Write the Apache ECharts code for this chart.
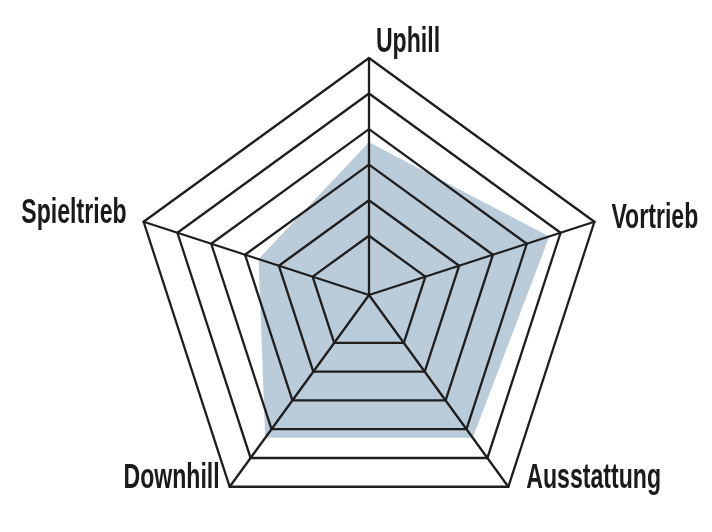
<!DOCTYPE html>
<html>
<head>
<meta charset="utf-8">
<script src="https://cdn.jsdelivr.net/npm/echarts@6/dist/echarts.min.js"></script>
<style>
  html, body { margin: 0; padding: 0; background: #ffffff; }
  #chart { width: 712px; height: 532px; }
</style>
</head>
<body>
<div id="chart"></div>
<script>
// Axis names, in ECharts radar order (top first, then counter-clockwise)
const indicatorNames = ['Uphill', 'Spieltrieb', 'Downhill', 'Ausstattung', 'Vortrieb'];
// Values, on the 0–20 scale of the radar
const ratingValues = [12.9, 9.8, 14.9, 14.9, 16.0];
// Scale: 0..20 with a tick at every unit; only these ticks get a visible ring
const scaleMax = 20;
const visibleRings = [5, 8, 11, 14, 17, 20];

const ringColors = [];
for (let i = 0; i <= scaleMax; i++) {
  ringColors.push(visibleRings.indexOf(i) >= 0 ? '#1e1e1e' : 'rgba(0,0,0,0)');
}

// Radar layout
const cx = 369, cy = 295, R = 237;

// Condensed bold labels (no condensed face installed, so the text is squeezed horizontally)
const labelFont = "bold 35px 'Liberation Sans', Arial, sans-serif";
const squeeze = 0.66;
// Per-label placement: offset from the vertex
const labelPlacement = [
  { align: 'center', dx: 39, dy: -16 },   // Uphill
  { align: 'right',  dx: -17, dy: -8 },   // Spieltrieb
  { align: 'right',  dx: -10, dy: -8 },   // Downhill
  { align: 'left',   dx: 18,  dy: -8 },   // Ausstattung
  { align: 'left',   dx: 17,  dy: -3 }    // Vortrieb
];

const labelGraphics = indicatorNames.map(function (name, i) {
  const ang = Math.PI / 2 + i * 2 * Math.PI / indicatorNames.length;
  const vx = cx + R * Math.cos(ang);
  const vy = cy - R * Math.sin(ang);
  const p = labelPlacement[i];
  return {
    type: 'text',
    x: vx + p.dx,
    y: vy + p.dy,
    scaleX: squeeze,
    z: 20,
    style: {
      text: name,
      font: labelFont,
      fill: '#1a1a1a',
      textAlign: p.align,
      textVerticalAlign: 'middle'
    }
  };
});

const chart = echarts.init(document.getElementById('chart'), null, { renderer: 'canvas' });
chart.setOption({
  animation: false,
  backgroundColor: '#ffffff',
  radar: {
    z: 10,
    center: [cx, cy],
    radius: R,
    startAngle: 90,
    splitNumber: scaleMax,
    shape: 'polygon',
    indicator: indicatorNames.map(n => ({ name: n, min: 0, max: scaleMax })),
    axisName: { show: false },
    axisLine: { lineStyle: { color: '#1e1e1e', width: 2.3 } },
    splitLine: { lineStyle: { color: ringColors, width: 2.3 } },
    splitArea: { show: false },
    axisTick: { show: false },
    axisLabel: { show: false }
  },
  graphic: labelGraphics,
  series: [{
    type: 'radar',
    z: 2,
    symbol: 'none',
    lineStyle: { width: 0 },
    areaStyle: { color: '#bacbd9', opacity: 1 },
    data: [{ value: ratingValues, name: 'Bewertung' }]
  }]
});
</script>
</body>
</html>
